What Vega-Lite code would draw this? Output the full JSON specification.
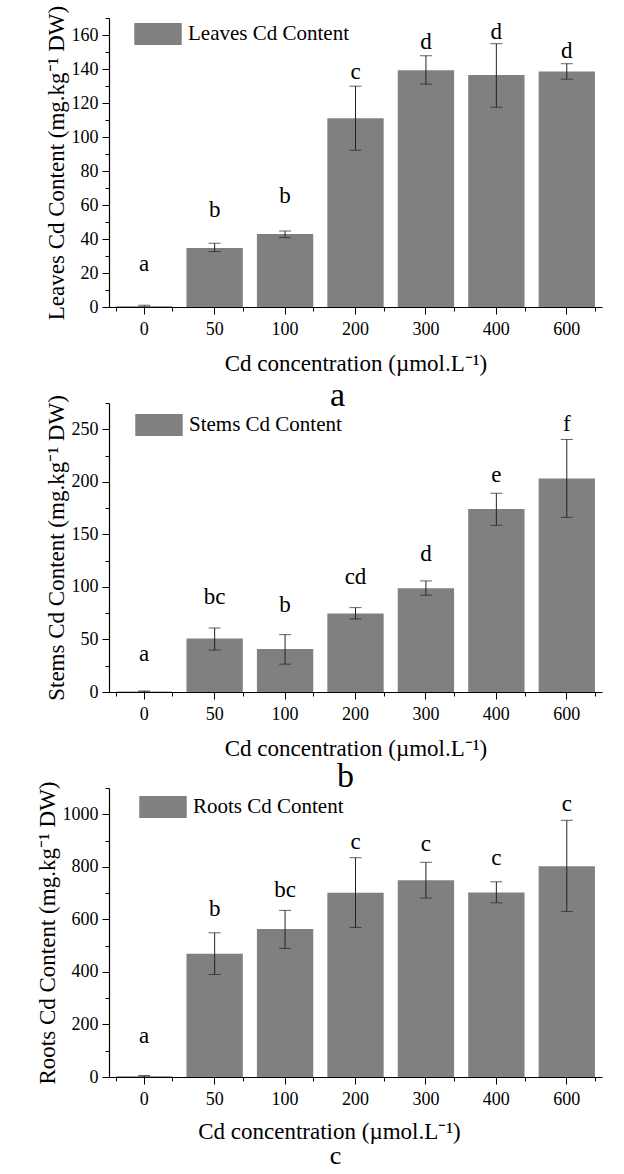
{
  "$schema": "https://vega.github.io/schema/vega-lite/v6.json",
  "background": "white",
  "padding": {"left": 35, "top": 5, "right": 5, "bottom": 0},
  "autosize": {"type": "pad"},
  "bounds": "flush",
  "spacing": 96,
  "config": {
    "font": "Liberation Serif, Times New Roman, serif",
    "view": {"stroke": null},
    "axis": {
      "labelFont": "Liberation Serif, Times New Roman, serif",
      "titleFont": "Liberation Serif, Times New Roman, serif",
      "labelColor": "black",
      "titleColor": "black",
      "domainColor": "black",
      "tickColor": "black",
      "grid": false,
      "titleFontWeight": "normal"
    },
    "legend": {"labelFont": "Liberation Serif, Times New Roman, serif"},
    "text": {"font": "Liberation Serif, Times New Roman, serif"},
    "title": {"font": "Liberation Serif, Times New Roman, serif"}
  },
  "resolve": {"scale": {"color": "independent"}, "legend": {"color": "independent"}},
  "vconcat": [
    {
      "width": 493,
      "height": 289,
      "data": {"values": [
        {"conc": "0", "mean": 0.5, "lo": 0, "hi": 1, "letter": "a", "label_at": 21.4},
        {"conc": "50", "mean": 34.7, "lo": 32.6, "hi": 37.5, "letter": "b", "label_at": 52.8},
        {"conc": "100", "mean": 42.9, "lo": 40.8, "hi": 44.7, "letter": "b", "label_at": 61.1},
        {"conc": "200", "mean": 111.0, "lo": 92.2, "hi": 129.9, "letter": "c", "label_at": 134.0},
        {"conc": "300", "mean": 139.3, "lo": 131.1, "hi": 147.8, "letter": "d", "label_at": 151.5},
        {"conc": "400", "mean": 136.4, "lo": 117.5, "hi": 154.9, "letter": "d", "label_at": 157.6},
        {"conc": "600", "mean": 138.5, "lo": 134.0, "hi": 143.1, "letter": "d", "label_at": 146.2}
      ]},
      "title": {"text": "a", "orient": "bottom", "anchor": "middle", "fontSize": 34, "fontWeight": "normal", "color": "black", "dx": -18, "offset": 4},
      "layer": [
        {
          "mark": {"type": "bar"},
          "encoding": {
            "x": {"field": "conc", "type": "ordinal", "sort": null,
                  "scale": {"paddingInner": 0.2, "paddingOuter": 0.1},
                  "axis": {"title": "Cd concentration (µmol.L⁻¹)", "labelAngle": 0, "labelFontSize": 18, "tickSize": 7, "labelPadding": 6, "titleFontSize": 23, "titlePadding": 14, "domainWidth": 1.2, "orient": "bottom"}},
            "y": {"field": "mean", "type": "quantitative",
                  "scale": {"domain": [0, 170], "nice": false, "zero": true},
                  "axis": {"title": "Leaves Cd Content (mg.kg⁻¹ DW)", "format": "d", "values": [0, 20, 40, 60, 80, 100, 120, 140, 160], "labelFontSize": 18, "tickSize": 7, "labelPadding": 4, "titleFontSize": 23, "titlePadding": 3, "domainWidth": 1.2, "orient": "left"}},
            "color": {"datum": "Leaves Cd Content", "type": "nominal", "scale": {"range": ["#808080"]},
                      "legend": {"orient": "none", "legendX": 25, "legendY": -8, "title": null, "symbolType": "M-1,-0.464H1V0.464H-1Z", "symbolSize": 2250, "symbolFillColor": "#808080", "symbolStrokeWidth": 0, "labelFontSize": 21, "labelColor": "black", "labelLimit": 400, "padding": 0, "labelOffset": 6, "symbolOffset": 0}}
          }
        },
        {
          "mark": {"type": "rule", "color": "#222222", "strokeWidth": 1},
          "encoding": {
            "x": {"field": "conc", "type": "ordinal", "sort": null,
                  "axis": {"title": null, "labels": false, "tickBand": "extent", "tickSize": 4, "domain": false, "orient": "bottom"}},
            "y": {"field": "lo", "type": "quantitative",
                  "axis": {"title": null, "labels": false, "values": [0, 10, 20, 30, 40, 50, 60, 70, 80, 90, 100, 110, 120, 130, 140, 150, 160, 170], "tickSize": 4, "domain": false, "orient": "left"}},
            "y2": {"field": "hi"}
          }
        },
        {
          "mark": {"type": "tick", "orient": "horizontal", "size": 12, "thickness": 1, "color": "#222222"},
          "encoding": {
            "x": {"field": "conc", "type": "ordinal", "sort": null, "axis": null},
            "y": {"field": "hi", "type": "quantitative", "axis": null}
          }
        },
        {
          "mark": {"type": "tick", "orient": "horizontal", "size": 12, "thickness": 1, "color": "#222222"},
          "encoding": {
            "x": {"field": "conc", "type": "ordinal", "sort": null, "axis": null},
            "y": {"field": "lo", "type": "quantitative", "axis": null}
          }
        },
        {
          "mark": {"type": "text", "fontSize": 23, "baseline": "alphabetic", "color": "black"},
          "encoding": {
            "x": {"field": "conc", "type": "ordinal", "sort": null, "axis": null},
            "y": {"field": "label_at", "type": "quantitative", "axis": null},
            "text": {"field": "letter"}
          }
        }
      ],
      "resolve": {"axis": {"x": "independent", "y": "independent"}}
    },
    {
      "width": 493,
      "height": 289,
      "data": {"values": [
        {"conc": "0", "mean": 0.5, "lo": 0, "hi": 1, "letter": "a", "label_at": 29.1},
        {"conc": "50", "mean": 50.8, "lo": 39.9, "hi": 60.9, "letter": "bc", "label_at": 84.2},
        {"conc": "100", "mean": 40.8, "lo": 26.5, "hi": 54.6, "letter": "b", "label_at": 76.1},
        {"conc": "200", "mean": 74.6, "lo": 69.5, "hi": 80.3, "letter": "cd", "label_at": 102.3},
        {"conc": "300", "mean": 98.8, "lo": 92.1, "hi": 105.7, "letter": "d", "label_at": 124.5},
        {"conc": "400", "mean": 174.1, "lo": 158.6, "hi": 189.1, "letter": "e", "label_at": 199.9},
        {"conc": "600", "mean": 203.1, "lo": 166.2, "hi": 240.3, "letter": "f", "label_at": 248.6}
      ]},
      "title": {"text": "b", "orient": "bottom", "anchor": "middle", "fontSize": 34, "fontWeight": "normal", "color": "black", "dx": -10, "offset": 0},
      "layer": [
        {
          "mark": {"type": "bar"},
          "encoding": {
            "x": {"field": "conc", "type": "ordinal", "sort": null,
                  "scale": {"paddingInner": 0.2, "paddingOuter": 0.1},
                  "axis": {"title": "Cd concentration (µmol.L⁻¹)", "labelAngle": 0, "labelFontSize": 18, "tickSize": 7, "labelPadding": 6, "titleFontSize": 23, "titlePadding": 14, "domainWidth": 1.2, "orient": "bottom"}},
            "y": {"field": "mean", "type": "quantitative",
                  "scale": {"domain": [0, 275], "nice": false, "zero": true},
                  "axis": {"title": "Stems Cd Content (mg.kg⁻¹ DW)", "format": "d", "values": [0, 50, 100, 150, 200, 250], "labelFontSize": 18, "tickSize": 7, "labelPadding": 4, "titleFontSize": 23, "titlePadding": 3, "domainWidth": 1.2, "orient": "left"}},
            "color": {"datum": "Stems Cd Content", "type": "nominal", "scale": {"range": ["#808080"]},
                      "legend": {"orient": "none", "legendX": 26, "legendY": -2, "title": null, "symbolType": "M-1,-0.464H1V0.464H-1Z", "symbolSize": 2250, "symbolFillColor": "#808080", "symbolStrokeWidth": 0, "labelFontSize": 21, "labelColor": "black", "labelLimit": 400, "padding": 0, "labelOffset": 6, "symbolOffset": 0}}
          }
        },
        {
          "mark": {"type": "rule", "color": "#222222", "strokeWidth": 1},
          "encoding": {
            "x": {"field": "conc", "type": "ordinal", "sort": null,
                  "axis": {"title": null, "labels": false, "tickBand": "extent", "tickSize": 4, "domain": false, "orient": "bottom"}},
            "y": {"field": "lo", "type": "quantitative",
                  "axis": {"title": null, "labels": false, "values": [0, 25, 50, 75, 100, 125, 150, 175, 200, 225, 250, 275], "tickSize": 4, "domain": false, "orient": "left"}},
            "y2": {"field": "hi"}
          }
        },
        {
          "mark": {"type": "tick", "orient": "horizontal", "size": 12, "thickness": 1, "color": "#222222"},
          "encoding": {
            "x": {"field": "conc", "type": "ordinal", "sort": null, "axis": null},
            "y": {"field": "hi", "type": "quantitative", "axis": null}
          }
        },
        {
          "mark": {"type": "tick", "orient": "horizontal", "size": 12, "thickness": 1, "color": "#222222"},
          "encoding": {
            "x": {"field": "conc", "type": "ordinal", "sort": null, "axis": null},
            "y": {"field": "lo", "type": "quantitative", "axis": null}
          }
        },
        {
          "mark": {"type": "text", "fontSize": 23, "baseline": "alphabetic", "color": "black"},
          "encoding": {
            "x": {"field": "conc", "type": "ordinal", "sort": null, "axis": null},
            "y": {"field": "label_at", "type": "quantitative", "axis": null},
            "text": {"field": "letter"}
          }
        }
      ],
      "resolve": {"axis": {"x": "independent", "y": "independent"}}
    },
    {
      "width": 493,
      "height": 289,
      "data": {"values": [
        {"conc": "0", "mean": 3, "lo": 0, "hi": 6, "letter": "a", "label_at": 129.6},
        {"conc": "50", "mean": 468.8, "lo": 390.2, "hi": 548.8, "letter": "b", "label_at": 612.4},
        {"conc": "100", "mean": 562.9, "lo": 489.3, "hi": 634.1, "letter": "bc", "label_at": 686.0},
        {"conc": "200", "mean": 701.2, "lo": 569.4, "hi": 834.6, "letter": "c", "label_at": 866.6},
        {"conc": "300", "mean": 748.5, "lo": 681.0, "hi": 817.1, "letter": "c", "label_at": 860.1},
        {"conc": "400", "mean": 702.7, "lo": 663.1, "hi": 743.1, "letter": "c", "label_at": 806.8},
        {"conc": "600", "mean": 801.8, "lo": 630.3, "hi": 977.1, "letter": "c", "label_at": 1012.6}
      ]},
      "title": {"text": "c", "orient": "bottom", "anchor": "middle", "fontSize": 26, "fontWeight": "normal", "color": "black", "dx": -20, "offset": 0},
      "layer": [
        {
          "mark": {"type": "bar"},
          "encoding": {
            "x": {"field": "conc", "type": "ordinal", "sort": null,
                  "scale": {"paddingInner": 0.2, "paddingOuter": 0.1},
                  "axis": {"title": "Cd concentration (µmol.L⁻¹)", "labelAngle": 0, "labelFontSize": 18, "tickSize": 7, "labelPadding": 6, "titleFontSize": 23, "titlePadding": 12, "titleX": 220, "domainWidth": 1.2, "orient": "bottom"}},
            "y": {"field": "mean", "type": "quantitative",
                  "scale": {"domain": [0, 1100], "nice": false, "zero": true},
                  "axis": {"title": "Roots Cd Content (mg.kg⁻¹ DW)", "format": "d", "values": [0, 200, 400, 600, 800, 1000], "labelFontSize": 18, "tickSize": 7, "labelPadding": 4, "titleFontSize": 23, "titlePadding": 3, "domainWidth": 1.2, "orient": "left"}},
            "color": {"datum": "Roots Cd Content", "type": "nominal", "scale": {"range": ["#808080"]},
                      "legend": {"orient": "none", "legendX": 30, "legendY": -5, "title": null, "symbolType": "M-1,-0.464H1V0.464H-1Z", "symbolSize": 2250, "symbolFillColor": "#808080", "symbolStrokeWidth": 0, "labelFontSize": 21, "labelColor": "black", "labelLimit": 400, "padding": 0, "labelOffset": 6, "symbolOffset": 0}}
          }
        },
        {
          "mark": {"type": "rule", "color": "#222222", "strokeWidth": 1},
          "encoding": {
            "x": {"field": "conc", "type": "ordinal", "sort": null,
                  "axis": {"title": null, "labels": false, "tickBand": "extent", "tickSize": 4, "domain": false, "orient": "bottom"}},
            "y": {"field": "lo", "type": "quantitative",
                  "axis": {"title": null, "labels": false, "values": [0, 100, 200, 300, 400, 500, 600, 700, 800, 900, 1000, 1100], "tickSize": 4, "domain": false, "orient": "left"}},
            "y2": {"field": "hi"}
          }
        },
        {
          "mark": {"type": "tick", "orient": "horizontal", "size": 12, "thickness": 1, "color": "#222222"},
          "encoding": {
            "x": {"field": "conc", "type": "ordinal", "sort": null, "axis": null},
            "y": {"field": "hi", "type": "quantitative", "axis": null}
          }
        },
        {
          "mark": {"type": "tick", "orient": "horizontal", "size": 12, "thickness": 1, "color": "#222222"},
          "encoding": {
            "x": {"field": "conc", "type": "ordinal", "sort": null, "axis": null},
            "y": {"field": "lo", "type": "quantitative", "axis": null}
          }
        },
        {
          "mark": {"type": "text", "fontSize": 23, "baseline": "alphabetic", "color": "black"},
          "encoding": {
            "x": {"field": "conc", "type": "ordinal", "sort": null, "axis": null},
            "y": {"field": "label_at", "type": "quantitative", "axis": null},
            "text": {"field": "letter"}
          }
        }
      ],
      "resolve": {"axis": {"x": "independent", "y": "independent"}}
    }
  ]
}
